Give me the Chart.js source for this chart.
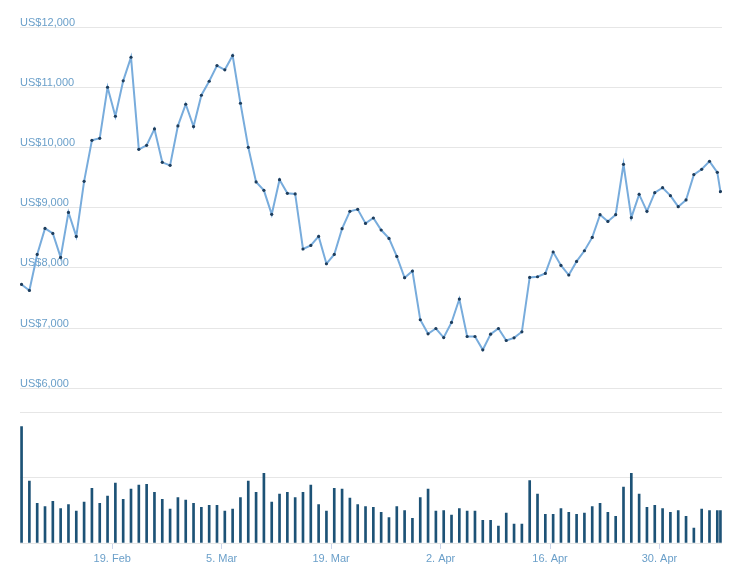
<!DOCTYPE html>
<html><head><meta charset="utf-8">
<script src="https://cdn.jsdelivr.net/npm/chart.js@4/dist/chart.umd.min.js"></script>
<style>html,body{margin:0;padding:0;background:#fff}#wrap{width:743px;height:573px}</style>
</head><body><div id="wrap"><canvas id="c" width="743" height="573"></canvas></div>
<script>
// day-of-year (2018, 1 Jan = 0) of the first daily sample (7 Feb) and of the latest (partial-day) sample
const firstDay = 37.4;
const latestDay = 126.8;

const prices = [7725,7626,8224,8656,8573,8174,8922,8523,9437,10119,
  10152,11000,10518,11106,11498,9969,10036,10308,9753,9703,
  10358,10717,10346,10867,11099,11360,11289,11526,10734,10002,
  9427,9288,8889,9465,9238,9228,8314,8374,8523,8069,
  8224,8651,8939,8972,8739,8829,8629,8490,8191,7837,
  7948,7139,6906,6994,6844,7094,7483,6861,6861,6640,
  6900,6994,6795,6839,6939,7842,7853,7908,8264,8041,
  7882,8108,8285,8506,8884,8772,8884,9720,8834,9221,
  8939,9249,9332,9200,9017,9128,9549,9637,9770,9587,
  9266];

const volumes = [1.79,0.95,0.61,0.56,0.64,0.53,0.59,0.49,0.63,0.84,
  0.61,0.72,0.92,0.67,0.83,0.89,0.90,0.78,0.67,0.52,
  0.70,0.66,0.61,0.55,0.58,0.58,0.49,0.52,0.70,0.95,
  0.78,1.07,0.63,0.75,0.78,0.70,0.78,0.89,0.59,0.49,
  0.84,0.83,0.69,0.59,0.56,0.55,0.47,0.39,0.56,0.50,
  0.38,0.70,0.83,0.49,0.50,0.43,0.53,0.49,0.49,0.35,
  0.35,0.26,0.46,0.29,0.29,0.96,0.75,0.44,0.44,0.53,
  0.47,0.44,0.46,0.56,0.61,0.47,0.41,0.86,1.07,0.75,
  0.55,0.58,0.53,0.47,0.50,0.41,0.23,0.52,0.50,0.50,
  0.50];

const tickDays = [49, 63, 77, 91, 105, 119];
const tickLabels = ['19. Feb', '5. Mar', '19. Mar', '2. Apr', '16. Apr', '30. Apr'];
const priceTicks = [6000, 7000, 8000, 9000, 10000, 11000, 12000];
const priceLabels = ['US$6,000', 'US$7,000', 'US$8,000', 'US$9,000', 'US$10,000', 'US$11,000', 'US$12,000'];
const volumeTicks = [0, 1, 2];

const xOf = i => (i < prices.length - 1 ? firstDay + i : latestDay);
const pricePts = prices.map((v, i) => ({x: xOf(i), y: v}));
const volPts = volumes.map((v, i) => ({x: xOf(i), y: v}));

const labelColor = '#6a9fc9';
const gridColor = '#e6e6e6';
const FONT = 'Helvetica, "Liberation Sans", Arial, sans-serif';

new Chart(document.getElementById('c'), {
  type: 'line',
  data: {
    datasets: [
      {
        type: 'line', data: pricePts, yAxisID: 'y', xAxisID: 'x',
        borderColor: '#78acdc', borderWidth: 2, tension: 0,
        pointRadius: 1.6, pointBackgroundColor: '#1e3d5c', pointBorderWidth: 0,
        pointHoverRadius: 0
      },
      {
        type: 'bar', data: volPts, yAxisID: 'yv', xAxisID: 'x',
        backgroundColor: '#1d5276', barThickness: 2, borderWidth: 0
      }
    ]
  },
  options: {
    responsive: false, animation: false, devicePixelRatio: 1,
    layout: {padding: {left: 20, right: 21, top: 27, bottom: 0}},
    plugins: {legend: {display: false}, tooltip: {enabled: false}},
    scales: {
      x: {
        type: 'linear', position: 'bottom', offset: false,
        min: firstDay - 0.2, max: latestDay + 0.2,
        afterBuildTicks: s => { s.ticks = tickDays.map(v => ({value: v})); },
        afterFit: s => { s.height = 30; },
        grid: {offset: false, drawOnChartArea: false, drawTicks: true, tickLength: 6, color: '#ccd6eb'},
        border: {display: false},
        ticks: {
          padding: 3, color: labelColor, maxRotation: 0, autoSkip: false,
          font: {family: FONT, size: 11},
          callback: v => tickLabels[tickDays.indexOf(v)]
        }
      },
      yv: {
        type: 'linear', position: 'left', stack: 'main', stackWeight: 130,
        min: 0, max: 2,
        afterBuildTicks: s => { s.ticks = volumeTicks.map(v => ({value: v})); },
        afterFit: s => { s.width = 0; },
        grid: {color: gridColor, drawTicks: false},
        border: {display: false},
        ticks: {display: false}
      },
      y: {
        type: 'linear', position: 'left', stack: 'main', stackWeight: 385.5,
        min: 5593, max: 12000,
        afterBuildTicks: s => { s.ticks = priceTicks.map(v => ({value: v})); },
        afterFit: s => { s.width = 0; },
        grid: {color: gridColor, drawTicks: false},
        border: {display: false},
        ticks: {
          mirror: true, padding: 0, labelOffset: -4.5, color: labelColor,
          font: {family: FONT, size: 11},
          callback: v => priceLabels[priceTicks.indexOf(v)]
        }
      }
    }
  }
});
</script>
</body></html>
